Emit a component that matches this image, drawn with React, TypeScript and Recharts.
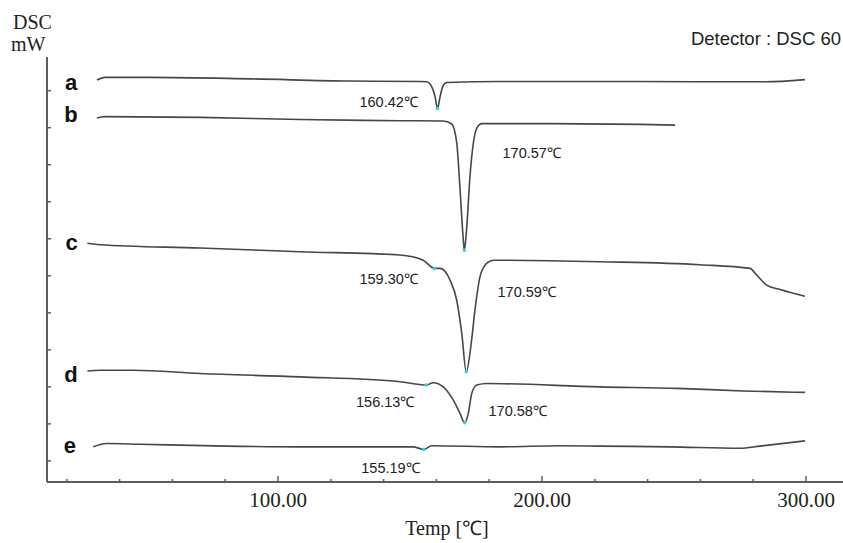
import React from 'react'
import { ComposedChart, Line, Scatter, XAxis, YAxis } from 'recharts'

// temperature (°C) / heat flow (arbitrary mW units, one unit per y tick)
const curveA: [number, number][] = [
  [31.4, 10.29], [34.5, 10.36], [51.5, 10.36], [89.4, 10.32], [127.3, 10.26],
  [153.8, 10.25], [156.3, 10.24], [158.2, 10.11], [159.5, 9.84], [160.42, 9.52],
  [161.4, 9.84], [162.4, 10.11], [163.9, 10.22], [184.1, 10.25], [222, 10.25],
  [259.8, 10.24], [284.5, 10.24], [299.6, 10.3],
]
const curveB: [number, number][] = [
  [31.4, 9.26], [34.5, 9.3], [70.5, 9.28], [108.3, 9.22], [146.2, 9.19],
  [162.5, 9.18], [165.8, 9.1], [167.7, 8.59], [168.9, 7.4], [170.2, 5.96],
  [170.57, 5.69], [171.5, 6.32], [172.7, 7.67], [174.0, 8.59], [175.3, 8.99],
  [177.2, 9.11], [203, 9.11], [237.1, 9.09], [250.4, 9.07],
]
const curveC: [number, number][] = [
  [27.8, 5.88], [32.6, 5.84], [70.5, 5.75], [108.3, 5.65], [146.2, 5.56],
  [155, 5.42], [159.3, 5.2], [161.4, 5.2], [165.2, 4.88], [167.7, 4.34],
  [169.6, 3.45], [171.3, 2.41], [173.2, 3.18], [174.6, 4.07], [176.5, 4.97],
  [179.1, 5.34], [181.6, 5.42], [222, 5.38], [259.8, 5.3], [278.8, 5.2],
  [281.3, 5.02], [285.1, 4.75], [290.2, 4.63], [299.6, 4.45],
]
const curveD: [number, number][] = [
  [27.8, 2.43], [32.6, 2.45], [45.1, 2.45], [70.5, 2.36], [108.3, 2.27],
  [146.2, 2.14], [156.13, 2.05], [158.8, 2.11], [162.6, 2.0], [166.4, 1.64],
  [168.9, 1.29], [170.7, 1.03], [172.1, 1.29], [173.4, 1.83], [175.3, 2.05],
  [179.1, 2.09], [222, 2.0], [251, 1.96], [276.1, 1.89], [299.6, 1.85],
]
const curveE: [number, number][] = [
  [30.0, 0.38], [35.1, 0.47], [47.7, 0.45], [80.6, 0.4], [108.3, 0.38],
  [151.1, 0.38], [155.19, 0.31], [158.2, 0.41], [184.1, 0.38], [206.8, 0.41],
  [222, 0.4], [248.5, 0.38], [275, 0.34], [282.6, 0.4], [299.6, 0.54],
]

const peakDots: [number, number][] = [
  [160.42, 9.52], [170.57, 5.69], [159.3, 5.2], [171.3, 2.41],
  [156.13, 2.05], [170.7, 1.03], [155.19, 0.31],
]

const peakLabels: [number, number, string][] = [
  [141.9, 9.57, '160.42℃'],
  [196.1, 8.17, '170.57℃'],
  [141.9, 4.77, '159.30℃'],
  [194.2, 4.43, '170.59℃'],
  [140.6, 1.46, '156.13℃'],
  [190.8, 1.22, '170.58℃'],
  [142.6, -0.33, '155.19℃'],
]

const curveLetters: [number, number, string][] = [
  [21.6, 10.02, 'a'],
  [21.6, 9.16, 'b'],
  [21.8, 5.69, 'c'],
  [21.6, 2.14, 'd'],
  [21.2, 0.22, 'e'],
]

const xTicks = [20, 40, 60, 80, 100, 120, 140, 160, 180, 200, 220, 240, 260, 280, 300]
const yTicks = [0, 1, 2, 3, 4, 5, 6, 7, 8, 9, 10]

const toPts = (arr: [number, number][]) => arr.map(([T, v]) => ({ T, v }))
const toText = (arr: [number, number, string][]) => arr.map(([T, v, text]) => ({ T, v, text }))

const frame = '#5c5c5c'
const trace = '#474747'

const XTick = (props: any) => {
  const { x, y, payload } = props
  const major = payload.value % 100 === 0
  return (
    <g>
      <line x1={x} x2={x} y1={y} y2={y - (major ? 6 : 3)} stroke={frame} strokeWidth={1.5} />
      {major && (
        <text x={x} y={y + 25} textAnchor="middle" fontSize={21}
          fontFamily="'Liberation Serif', 'Times New Roman', serif" fill="#222">
          {payload.value.toFixed(2)}
        </text>
      )}
    </g>
  )
}

const YTick = (props: any) => {
  const { x, y } = props
  return <line x1={x} x2={x + 4} y1={y} y2={y} stroke={frame} strokeWidth={1.5} />
}

const AnnoText = (props: any) => {
  const { cx, cy, payload } = props
  return (
    <text x={cx} y={cy} textAnchor="middle" fontSize={14.5}
      fontFamily="'Liberation Sans', Arial, sans-serif" fill="#222">
      {payload.text}
    </text>
  )
}

const LetterText = (props: any) => {
  const { cx, cy, payload } = props
  return (
    <text x={cx} y={cy} textAnchor="middle" fontSize={22} fontWeight="bold"
      fontFamily="'Liberation Sans', Arial, sans-serif" fill="#111">
      {payload.text}
    </text>
  )
}

const PeakDot = (props: any) => {
  const { cx, cy } = props
  return <circle cx={cx} cy={cy} r={1.8} fill="#2fd3e3" />
}

export default function App() {
  const series = [curveA, curveB, curveC, curveD, curveE]
  return (
    <div style={{ position: 'absolute', left: 0, top: 0, width: 843, height: 543, overflow: 'hidden', background: '#fff' }}>
      <ComposedChart width={860} height={543} margin={{ top: 57, right: 7, bottom: 0, left: 0 }}>
        <XAxis
          xAxisId="top"
          orientation="top"
          type="number"
          dataKey="T"
          domain={[12.5, 317.8]}
          allowDataOverflow
          height={0}
          tick={false}
          tickLine={false}
          axisLine={{ stroke: frame, strokeWidth: 2 }}
        />
        <XAxis
          type="number"
          dataKey="T"
          domain={[12.5, 317.8]}
          allowDataOverflow
          ticks={xTicks}
          interval={0}
          height={61}
          tickSize={0}
          tickMargin={0}
          tickLine={false}
          tick={<XTick />}
          axisLine={{ stroke: frame, strokeWidth: 2 }}
        />
        <YAxis
          type="number"
          domain={[-0.57, 10.91]}
          allowDataOverflow
          ticks={yTicks}
          interval={0}
          width={47}
          tickSize={0}
          tickMargin={0}
          tickLine={false}
          tick={<YTick />}
          axisLine={{ stroke: frame, strokeWidth: 2 }}
        />
        {series.map((s, i) => (
          <Line
            key={i}
            data={toPts(s)}
            dataKey="v"
            type="monotone"
            stroke={trace}
            strokeWidth={1.6}
            dot={false}
            activeDot={false}
            isAnimationActive={false}
          />
        ))}
        <Scatter data={toPts(peakDots)} dataKey="v" shape={<PeakDot />} isAnimationActive={false} />
        <Scatter data={toText(peakLabels)} dataKey="v" shape={<AnnoText />} isAnimationActive={false} />
        <Scatter data={toText(curveLetters)} dataKey="v" shape={<LetterText />} isAnimationActive={false} />
      </ComposedChart>
      <svg width={843} height={543} style={{ position: 'absolute', left: 0, top: 0, pointerEvents: 'none' }}>
        <g fontFamily="'Liberation Serif', 'Times New Roman', serif" fill="#222" fontSize={20}>
          <text x={13} y={29}>DSC</text>
          <text x={11} y={50.5}>mW</text>
          <text x={447} y={535} textAnchor="middle">Temp  [℃]</text>
        </g>
        <text x={841} y={45} textAnchor="end" fontSize={18.5}
          fontFamily="'Liberation Sans', Arial, sans-serif" fill="#222">
          Detector : DSC 60
        </text>
      </svg>
    </div>
  )
}
